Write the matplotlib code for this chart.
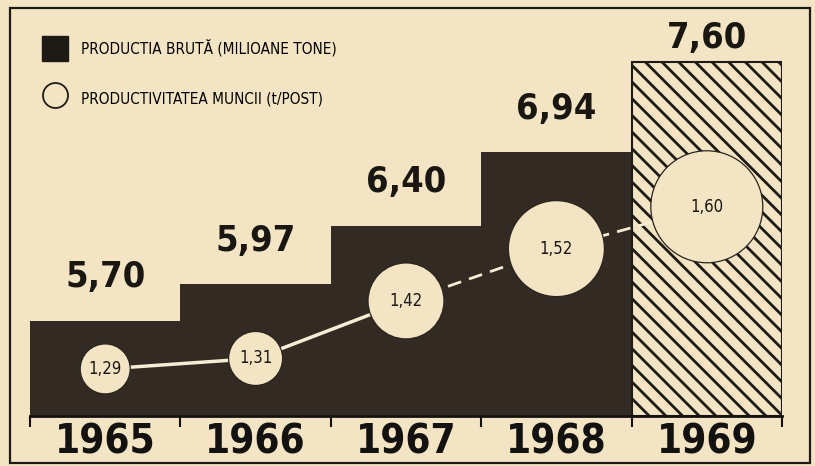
import matplotlib.pyplot as plt
import matplotlib.patches as mpatches
from matplotlib.lines import Line2D
import numpy as np

# date
ani = ['1965', '1966', '1967', '1968', '1969']
productie = [5.70, 5.97, 6.40, 6.94, 7.60]          # milioane tone
productivitate = [1.29, 1.31, 1.42, 1.52, 1.60]     # t/post
et_productie = ['5,70', '5,97', '6,40', '6,94', '7,60']
et_productivitate = ['1,29', '1,31', '1,42', '1,52', '1,60']

fundal = '#f3e4c3'
inchis = '#332b23'
negru = '#1a1612'
fnt = ['DejaVu Sans']
plt.rcParams['hatch.linewidth'] = 2.0
plt.rcParams['hatch.color'] = '#1e1a16'

fig = plt.figure(figsize=(8.15, 4.66), dpi=100, facecolor=fundal)
ax = fig.add_axes([30/815, 50/466, 752/815, 408/466])
ax.set_facecolor(fundal)

x = np.arange(len(ani))
baza = 5.0
for i in range(len(ani)):
    ultim = i == len(ani) - 1
    ax.bar(x[i], productie[i] - baza, bottom=baza, width=1.0,
           color=fundal if ultim else inchis, hatch='\\\\' if ultim else None,
           edgecolor='#1e1a16' if ultim else inchis,
           linewidth=1.5 if ultim else 0, zorder=1)

pad = [19, 19, 19, 19, 5]
for i in range(len(ani)):
    ax.annotate(et_productie[i], (x[i], productie[i]), xytext=(0, pad[i]),
                textcoords='offset points', ha='center', va='bottom',
                fontsize=26, fontweight='bold', family=fnt, fontstretch='condensed', color=negru)

ax.set_xlim(-0.5, 4.5)
ax.set_ylim(5.0, 8.0)
ax.set_xticks(np.arange(-0.5, 5, 1))
ax.set_xticklabels([])
ax.set_xticks(x, minor=True)
ax.set_xticklabels(ani, minor=True, fontsize=29, fontweight='bold', family=fnt,
                   fontstretch='condensed', color='#141210')
ax.tick_params(axis='x', which='major', direction='out', length=8, width=1.5, color='#141210')
ax.tick_params(axis='x', which='minor', length=0, pad=5)
ax.set_yticks([])
for s in ['top', 'left', 'right']:
    ax.spines[s].set_visible(False)
ax.spines['bottom'].set_linewidth(2)
ax.spines['bottom'].set_color('#141210')

# productivitate pe axa secundara
ax2 = ax.twinx()
ax2.set_ylim(1.20, 1.98)
ax2.set_yticks([])
for s in ax2.spines.values():
    s.set_visible(False)
linie = '#f6ecd4'
ax2.plot(x[:3], productivitate[:3], color=linie, lw=2.5, zorder=2)
ax2.plot(x[2:], productivitate[2:], color=linie, lw=2, ls=(0, (5, 3)), zorder=2)
diam = 2*100*(np.array(productivitate) - 1.04)*0.72
ax2.scatter(x, productivitate, s=diam**2, color=fundal, edgecolor='#2a241e',
            linewidth=0.9, zorder=3)
for i in range(len(ani)):
    ax2.text(x[i], productivitate[i], et_productivitate[i], ha='center', va='center',
             fontsize=12, family=fnt, fontstretch='condensed', color=negru, zorder=4)

# legenda
h1 = mpatches.Patch(facecolor='#1e1a16', edgecolor='#1e1a16')
h2 = Line2D([], [], marker='o', ls='none', markersize=18, markerfacecolor=fundal,
            markeredgecolor='#1e1a16', markeredgewidth=1.3)
fig.legend([h1, h2], ['PRODUCTIA BRUTĂ (MILIOANE TONE)', 'PRODUCTIVITATEA MUNCII (t/POST)'],
           loc='upper left', bbox_to_anchor=(28/815, 1 - 22/466), frameon=False,
           handlelength=1.7, handleheight=2.2, labelspacing=1.6, handletextpad=0.9,
           prop={'family': fnt, 'size': 11, 'stretch': 'condensed'})

# chenar
fig.add_artist(mpatches.Rectangle((10/815, 3/466), 800/815, 455/466, transform=fig.transFigure,
                                  fill=False, edgecolor='#1e1a16', linewidth=1.6))

fig.savefig('out.png', dpi=100, facecolor=fundal)
